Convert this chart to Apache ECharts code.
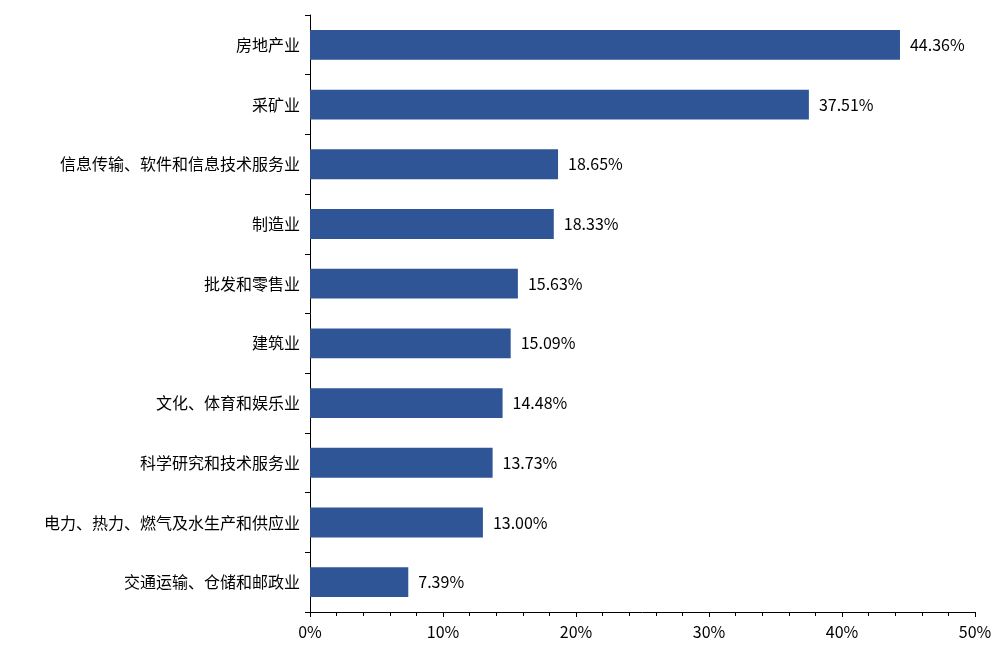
<!DOCTYPE html>
<html><head><meta charset="utf-8">
<script src="https://cdn.jsdelivr.net/npm/echarts@6/dist/echarts.min.js"></script>
<style>html,body{margin:0;padding:0;background:#fff}#c{width:1006px;height:660px}</style>
</head><body><div id="c"></div>
<script>
const categories = ["房地产业","采矿业","信息传输、软件和信息技术服务业","制造业","批发和零售业","建筑业","文化、体育和娱乐业","科学研究和技术服务业","电力、热力、燃气及水生产和供应业","交通运输、仓储和邮政业"];
const values = [44.36,37.51,18.65,18.33,15.63,15.09,14.48,13.73,13.00,7.39];
const font = '"Microsoft YaHei","Noto Sans CJK SC",sans-serif';
const chart = echarts.init(document.getElementById('c'));
chart.setOption({
  animation:false,
  grid:{left:310,right:31,top:15,bottom:48,containLabel:false},
  xAxis:{type:'value',min:0,max:50,interval:10,
    axisLine:{show:true,lineStyle:{color:'#000'}},
    axisTick:{show:true,length:5,lineStyle:{color:'#000'}},
    minorTick:{show:true,splitNumber:5,length:4,lineStyle:{color:'#000'}},
    splitLine:{show:false},
    axisLabel:{formatter:'{value}%',color:'#000',fontSize:16,fontFamily:font,margin:12}},
  yAxis:{type:'category',inverse:true,data:categories,
    axisLine:{show:true,lineStyle:{color:'#000'}},
    axisTick:{show:true,length:5,lineStyle:{color:'#000'}},
    axisLabel:{color:'#000',fontSize:16,fontFamily:font,margin:10}},
  series:[{type:'bar',data:values,barWidth:'50%',
    itemStyle:{color:'#2F5597'},
    label:{show:true,position:'right',distance:10,color:'#000',fontSize:16,fontFamily:font,
      formatter:p=>p.value.toFixed(2)+'%'}}]
});
</script></body></html>
